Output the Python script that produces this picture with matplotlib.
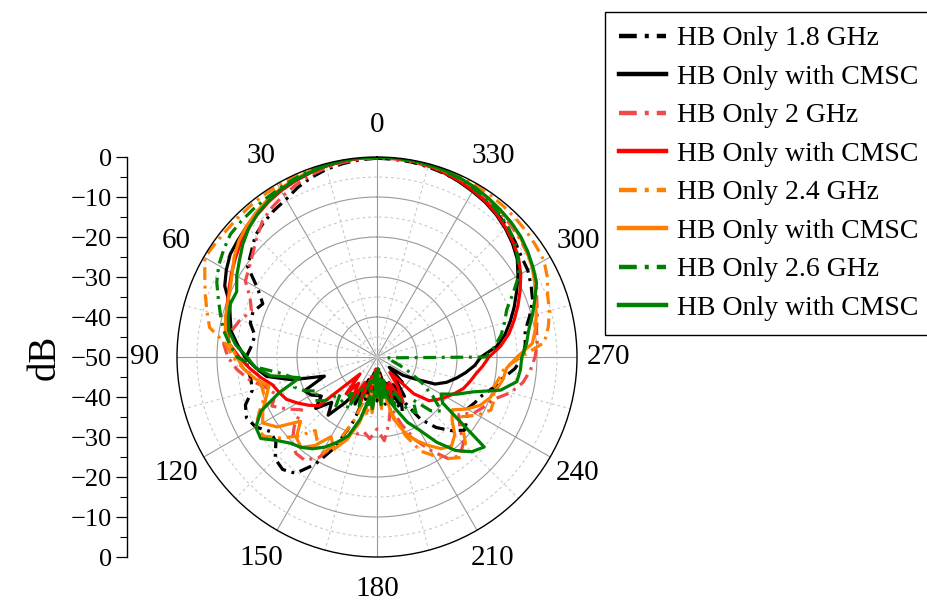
import numpy as np
import matplotlib
matplotlib.use("Agg")
import matplotlib.pyplot as plt

plt.rcParams['font.family'] = ['Liberation Serif', 'DejaVu Serif']

# angles in degrees, 5 degree steps (0 at top, counter-clockwise)
angles = np.arange(0, 360, 5)

# HB Only 1.8 GHz (black dash-dot)
bk_dash = [-0.3, -0.5, -0.9, -1.4, -2.2, -3.2,
           -4.5, -5.2, -6.0, -7.0, -9.0, -10.5,
           -15.5, -18.5, -17.0, -17.2, -19.0, -18.5,
           -17.3, -17.5, -18.0, -17.7, -15.0, -14.0,
           -15.0, -17.5, -17.0, -14.0, -13.3, -14.5,
           -19.0, -25.0, -33.0, -42.0, -37.0, -46.0,
           -39.0, -47.0, -38.0, -44.0, -40.0, -35.0,
           -38.0, -31.0, -27.0, -24.0, -21.5, -22.5,
           -24.0, -23.0, -22.0, -20.0, -18.3, -15.5,
           -13.5, -12.8, -12.4, -10.5, -8.6, -7.5,
           -6.5, -6.0, -5.0, -4.0, -3.2, -2.5,
           -2.0, -1.5, -1.1, -0.8, -0.5, -0.4]

# HB Only with CMSC (black solid)
bk_solid = [0.0, -0.1, -0.3, -0.6, -1.0, -1.4,
            -1.9, -2.5, -3.2, -3.9, -4.6, -5.2,
            -6.5, -8.0, -10.8, -12.0, -13.0, -15.0,
            -17.0, -19.5, -22.0, -28.0, -36.0, -30.0,
            -31.0, -33.0, -30.0, -34.0, -31.0, -36.0,
            -40.0, -37.0, -44.0, -39.0, -46.0, -38.0,
            -45.0, -39.0, -46.0, -38.0, -43.0, -37.0,
            -42.0, -38.0, -43.0, -41.0, -46.0, -42.0,
            -39.0, -34.0, -31.5, -29.5, -27.5, -25.5,
            -24.0, -20.0, -17.5, -15.5, -13.5, -11.5,
            -9.3, -7.2, -5.8, -4.6, -3.6, -2.8,
            -2.2, -1.6, -1.0, -0.5, -0.2, -0.1]

# HB Only 2 GHz (red dash-dot)
rd_dash = [-0.2, -0.3, -0.6, -1.0, -1.6, -2.4,
           -3.3, -4.3, -5.5, -7.6, -9.5, -11.0,
           -12.0, -15.0, -16.6, -14.5, -13.0, -11.5,
           -12.7, -14.8, -17.5, -21.0, -23.0, -21.0,
           -24.0, -27.0, -23.0, -20.0, -18.5, -18.5,
           -21.0, -26.0, -29.0, -30.0, -31.0, -29.5,
           -32.0, -29.0, -33.0, -37.0, -32.0, -27.0,
           -23.0, -19.0, -17.7, -19.5, -23.0, -25.0,
           -22.0, -20.5, -19.0, -15.5, -13.0, -11.5,
           -10.5, -9.8, -9.5, -8.5, -7.5, -6.0,
           -5.0, -4.3, -3.6, -3.0, -2.5, -2.0,
           -1.6, -1.2, -0.9, -0.6, -0.4, -0.3]

# HB Only with CMSC (red solid)
rd_solid = [0.0, -0.1, -0.3, -0.6, -1.0, -1.5,
            -2.0, -2.7, -3.5, -4.4, -5.5, -6.8,
            -8.0, -9.2, -10.2, -11.0, -11.8, -13.0,
            -15.5, -18.0, -20.5, -23.0, -24.0, -25.0,
            -27.0, -29.0, -31.0, -44.0, -38.0, -42.0,
            -37.0, -43.0, -38.0, -45.0, -40.0, -47.0,
            -42.0, -46.0, -40.0, -44.0, -39.0, -43.0,
            -37.0, -41.0, -45.0, -37.0, -33.0, -31.5,
            -30.0, -28.5, -27.0, -26.0, -25.0, -23.5,
            -22.0, -19.0, -16.5, -14.5, -12.5, -10.5,
            -8.5, -6.8, -5.5, -4.4, -3.4, -2.6,
            -2.0, -1.4, -0.9, -0.5, -0.2, -0.1]

# HB Only 2.4 GHz (orange dash-dot)
or_dash = [0.0, 0.0, -0.1, -0.2, -0.3, -0.4,
           -0.5, -0.6, -0.7, -0.8, -0.8, -0.6,
           -0.3, -2.5, -4.3, -6.0, -7.5, -12.0,
           -14.0, -16.5, -19.0, -20.4, -20.0, -17.5,
           -15.0, -15.5, -18.5, -22.0, -26.0, -24.0,
           -22.0, -26.0, -33.0, -40.0, -35.0, -45.0,
           -40.0, -46.0, -41.0, -35.0, -29.0, -24.0,
           -21.5, -19.0, -17.2, -18.5, -22.0, -24.0,
           -21.0, -18.6, -18.8, -20.0, -19.0, -18.0,
           -14.0, -8.0, -6.5, -5.4, -4.6, -3.0,
           -1.8, -1.5, -1.2, -1.0, -0.8, -0.6,
           -0.5, -0.4, -0.3, -0.2, -0.1, 0.0]

# HB Only with CMSC (orange solid)
or_solid = [0.0, 0.0, -0.1, -0.3, -0.6, -1.0,
            -1.5, -2.1, -2.9, -3.8, -4.9, -6.4,
            -8.2, -9.5, -10.3, -10.8, -11.5, -13.0,
            -15.0, -16.5, -19.0, -22.0, -20.5, -18.5,
            -17.0, -19.5, -25.0, -21.5, -20.5, -23.0,
            -27.0, -24.5, -28.0, -33.0, -40.0, -36.0,
            -44.0, -37.0, -42.0, -34.0, -30.0, -27.0,
            -24.5, -22.0, -21.0, -22.5, -25.5, -27.0,
            -24.0, -21.5, -20.0, -19.0, -18.0, -17.5,
            -15.0, -11.0, -9.8, -8.8, -7.8, -6.5,
            -5.2, -4.2, -3.3, -2.6, -2.0, -1.5,
            -1.1, -0.8, -0.5, -0.3, -0.1, 0.0]

# HB Only 2.6 GHz (green dash-dot)
gr_dash = [0.0, 0.0, -0.1, -0.3, -0.6, -0.9,
           -1.3, -1.6, -1.8, -2.0, -2.2, -3.2,
           -4.3, -5.8, -7.8, -9.5, -11.0, -13.0,
           -15.0, -20.0, -26.0, -29.0, -28.0, -30.0,
           -33.0, -31.0, -33.0, -37.0, -34.0, -39.0,
           -35.0, -41.0, -37.0, -44.0, -38.0, -46.0,
           -40.0, -47.0, -39.0, -44.0, -37.0, -41.0,
           -35.0, -33.0, -36.0, -31.0, -29.0, -33.0,
           -37.0, -41.0, -44.0, -46.0, -47.0, -47.5,
           -22.8, -20.5, -18.5, -17.0, -15.5, -12.5,
           -9.0, -7.0, -5.0, -3.8, -2.8, -2.0,
           -1.4, -0.9, -0.5, -0.3, -0.1, 0.0]

# HB Only with CMSC (green solid)
gr_solid = [0.0, 0.0, -0.2, -0.5, -0.9, -1.3,
            -1.7, -2.5, -3.4, -4.6, -6.2, -8.0,
            -9.5, -11.3, -11.0, -11.5, -12.4, -14.5,
            -17.5, -19.5, -23.0, -30.0, -24.0, -18.0,
            -15.0, -14.5, -17.5, -19.5, -20.5, -22.0,
            -24.0, -26.5, -29.0, -34.0, -40.0, -37.0,
            -45.0, -38.0, -44.0, -39.0, -36.0, -32.0,
            -29.0, -24.0, -19.5, -16.5, -15.0, -30.0,
            -31.5, -28.0, -24.5, -18.0, -14.5, -14.0,
            -13.8, -12.5, -11.5, -9.8, -8.0, -6.0,
            -5.0, -4.0, -3.1, -2.5, -2.0, -1.5,
            -1.0, -0.7, -0.4, -0.2, -0.1, 0.0]

labels = ["HB Only 1.8 GHz", "HB Only with CMSC",
          "HB Only 2 GHz", "HB Only with CMSC",
          "HB Only 2.4 GHz", "HB Only with CMSC",
          "HB Only 2.6 GHz", "HB Only with CMSC"]
series = [bk_dash, bk_solid, rd_dash, rd_solid, or_dash, or_solid, gr_dash, gr_solid]
colors = ["#000000", "#000000", "#f04a4a", "#ff0000",
          "#ff8000", "#ff8000", "#008000", "#008000"]
dashdot = (0, (4, 1.8, 0.9, 1.8))
styles = [dashdot, "-", dashdot, "-", dashdot, "-", dashdot, "-"]

fig = plt.figure(figsize=(9.27, 6.02), dpi=100)

# polar plot: centre (377, 357) px, radius 200 px
ax = fig.add_axes([177 / 927, 45 / 602, 400 / 927, 400 / 602], projection='polar')
ax.set_theta_zero_location('N')
ax.set_theta_direction(1)

theta = np.radians(np.append(angles, 360))
for vals, c, ls, lab in zip(series, colors, styles, labels):
    r = np.append(vals, vals[0])
    ax.plot(theta, r, color=c, ls=ls, lw=2.3, label=lab)

ax.set_rlim(-50, 0)
ax.set_yticks([-40, -30, -20, -10])
ax.set_yticks([-45, -35, -25, -15, -5], minor=True)
ax.set_yticklabels([])
ax.set_xticks(np.radians(np.arange(0, 360, 30)))
ax.set_xticklabels([str(a) for a in range(0, 360, 30)], fontsize=21)
ax.set_xticks(np.radians(np.arange(15, 360, 30)), minor=True)
ax.tick_params(axis='x', which='major', pad=16, direction='in', length=7, width=0.8)
ax.tick_params(axis='x', which='minor', direction='in', length=4, width=0.6)
ax.grid(True, which='major', color='#9a9a9a', lw=0.8, ls='-')
ax.grid(True, which='minor', color='#c4c4c4', lw=0.7, ls=(0, (3, 3)))
ax.spines['polar'].set_linewidth(1.0)
ax.spines['polar'].set_color('black')

# mirrored dB scale on the left
ax2 = fig.add_axes([127 / 927, 45 / 602, 0.0001, 400 / 602])
ax2.set_ylim(0, 100)
ax2.set_xticks([])
for s in ['top', 'right', 'bottom']:
    ax2.spines[s].set_visible(False)
ax2.spines['left'].set_linewidth(1.0)
db_ticks = np.arange(0, 101, 10)
ax2.set_yticks(db_ticks)
ax2.set_yticklabels([("\u2212" + str(50 - abs(t - 50))) if t not in (0, 100) else "0"
                     for t in db_ticks], fontsize=19)
ax2.set_yticks(np.arange(5, 100, 10), minor=True)
ax2.tick_params(axis='y', which='major', length=8, width=0.9, pad=3)
ax2.tick_params(axis='y', which='minor', length=5, width=0.8)
fig.text(45 / 927, 1 - 357 / 602, "dB", rotation=90, ha='center', va='center', fontsize=28)

leg = ax.legend(loc='upper left', bbox_to_anchor=(605 / 927, 1 - 12 / 602),
                bbox_transform=fig.transFigure, fontsize=20, frameon=True,
                fancybox=False, edgecolor='black', framealpha=1,
                handlelength=1.7, handletextpad=0.4, labelspacing=0.47,
                borderaxespad=0, borderpad=0.5)
leg.get_frame().set_linewidth(1.0)
for line in leg.get_lines():
    line.set_linewidth(3.2)

fig.savefig("out.png", dpi=100)
